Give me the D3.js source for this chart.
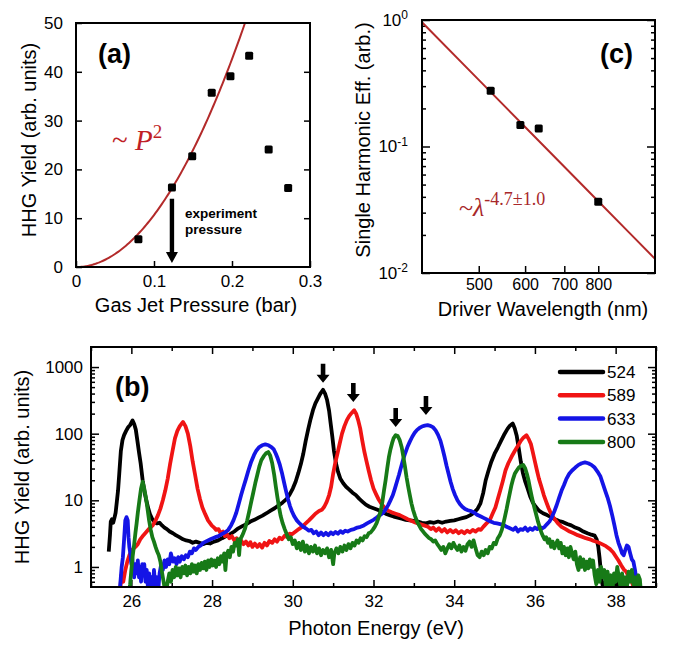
<!DOCTYPE html>
<html>
<head>
<meta charset="utf-8">
<script src="https://cdn.jsdelivr.net/npm/d3@7"></script>
<style>
body{margin:0;background:#fff}
svg text{font-family:"Liberation Sans",Arial,sans-serif;fill:#000}
.serif{font-family:"Liberation Serif","Times New Roman",serif}
</style>
</head>
<body>
<svg width="688" height="645"></svg>
<script>
// ---- panel (a): yield vs pressure
var pressure = [0.080, 0.123, 0.149, 0.174, 0.198, 0.222, 0.247, 0.272];
var hhgYield = [5.7, 16.3, 22.7, 35.7, 39.1, 43.3, 24.1, 16.2];
var p2Coef = 1065;          // fit  Y = c * P^2
var expPressure = 0.123;    // arrow

// ---- panel (c): efficiency vs wavelength
var wavelength = [524, 589, 633, 800];
var efficiency = [0.276, 0.148, 0.139, 0.0366];
var lamExp = -4.7, lamRef = 400, effRef = 0.96;

// ---- panel (b): spectra  [eV, yield]
var spec524 = [[25.44,1.7],[25.47,3.0],[25.49,4.8],[25.52,5.2],[25.55,4.6],[25.58,5.4],[25.61,6.5],[25.64,9.5],[25.67,14],[25.70,25],[25.74,55],[25.78,80],[25.82,95],[25.87,110],[25.92,125],[25.97,135],[26.03,158],[26.07,140],[26.11,115],[26.15,78],[26.19,52],[26.23,36],[26.28,20],[26.33,13],[26.37,10],[26.42,7.5],[26.46,6.2],[26.52,5.2],[26.57,4.8],[26.63,4.5],[26.70,4.6],[26.76,4.2],[26.82,3.9],[26.88,3.7],[26.95,3.4],[27.03,3.2],[27.10,3.0],[27.19,2.8],[27.28,2.6],[27.36,2.5],[27.44,2.45],[27.52,2.3],[27.60,2.4],[27.69,2.3],[27.78,2.2],[27.86,2.3],[27.95,2.25],[28.05,2.4],[28.15,2.5],[28.25,2.7],[28.35,2.9],[28.45,3.1],[28.55,3.4],[28.65,3.8],[28.75,4.1],[28.85,4.4],[28.95,4.8],[29.05,5.1],[29.15,5.5],[29.25,5.9],[29.35,6.4],[29.45,7.0],[29.55,7.6],[29.65,8.4],[29.75,9.3],[29.85,10.5],[29.93,12.5],[30.0,15],[30.07,19],[30.14,26],[30.2,35],[30.26,50],[30.32,78],[30.38,115],[30.44,165],[30.50,225],[30.56,285],[30.62,335],[30.68,395],[30.75,455],[30.80,400],[30.85,320],[30.90,220],[30.94,140],[30.98,90],[31.02,55],[31.07,36],[31.12,27],[31.18,21],[31.25,18],[31.32,16],[31.40,14.5],[31.48,13],[31.56,12],[31.65,10.5],[31.73,9.5],[31.81,8.6],[31.90,8.0],[32.0,7.6],[32.10,7.2],[32.2,6.8],[32.3,6.3],[32.4,6.0],[32.5,5.7],[32.6,5.5],[32.7,5.3],[32.8,5.1],[32.9,5.0],[33.0,4.9],[33.1,4.8],[33.2,4.6],[33.3,4.5],[33.4,4.7],[33.5,4.6],[33.6,4.8],[33.7,4.6],[33.8,4.8],[33.9,4.9],[34.0,5.0],[34.1,5.2],[34.2,5.4],[34.3,5.6],[34.4,6.0],[34.5,6.6],[34.58,7.5],[34.65,9],[34.72,13],[34.78,20],[34.85,28],[34.92,38],[35.0,50],[35.08,62],[35.16,78],[35.25,100],[35.32,118],[35.38,132],[35.45,142],[35.5,120],[35.55,92],[35.6,60],[35.65,38],[35.7,26],[35.76,19],[35.82,15],[35.88,11.5],[35.95,9.2],[36.02,8.0],[36.1,7.0],[36.2,6.4],[36.3,6.0],[36.4,5.6],[36.5,5.2],[36.6,4.9],[36.7,4.7],[36.8,4.4],[36.9,4.2],[37.0,3.9],[37.1,3.7],[37.2,3.4],[37.3,3.2],[37.4,3.05],[37.48,2.95],[37.53,2.6],[37.57,2.0],[37.6,1.4],[37.63,0.9],[37.66,0.6],[37.7,0.45],[37.75,0.58],[37.8,0.45],[37.85,0.62],[37.9,0.45],[37.95,0.55],[38.0,0.42],[38.05,0.58],[38.1,0.45],[38.15,0.52],[38.2,0.4]];

var spec589 = [[25.72,0.4],[25.75,0.75],[25.8,0.6],[25.85,0.9],[25.9,1.2],[25.95,1.5],[26.02,1.8],[26.1,2.0],[26.16,2.2],[26.22,2.6],[26.3,3.0],[26.37,3.35],[26.45,3.8],[26.53,4.2],[26.6,5.0],[26.66,6.0],[26.72,7.5],[26.78,10],[26.84,14],[26.9,21],[26.96,35],[27.02,55],[27.08,85],[27.14,110],[27.2,130],[27.28,150],[27.34,130],[27.40,100],[27.46,65],[27.52,38],[27.58,24],[27.64,15],[27.7,10.5],[27.76,7.8],[27.83,6.2],[27.9,5.0],[27.99,4.2],[28.05,3.9],[28.1,3.6],[28.16,3.7],[28.21,3.2],[28.27,3.4],[28.32,2.9],[28.37,3.1],[28.43,2.7],[28.49,2.9],[28.55,2.5],[28.61,2.7],[28.66,2.3],[28.72,2.5],[28.78,2.2],[28.84,2.4],[28.9,2.1],[28.95,2.35],[29.0,2.0],[29.06,2.25],[29.12,2.0],[29.18,2.2],[29.24,1.95],[29.3,2.3],[29.36,2.1],[29.42,2.45],[29.49,2.3],[29.55,2.6],[29.61,2.4],[29.67,2.75],[29.73,2.6],[29.8,2.95],[29.86,2.8],[29.92,3.15],[29.98,3.1],[30.07,3.4],[30.15,3.7],[30.23,4.0],[30.32,4.5],[30.4,5.0],[30.48,5.6],[30.56,6.3],[30.65,6.9],[30.72,7.2],[30.78,8.0],[30.84,9.5],[30.9,12],[30.95,16],[31.0,25],[31.05,36],[31.1,48],[31.16,70],[31.22,100],[31.28,130],[31.34,160],[31.4,185],[31.46,205],[31.52,225],[31.57,200],[31.62,160],[31.67,120],[31.72,80],[31.77,55],[31.82,40],[31.88,28],[31.94,20],[32.0,15],[32.06,12.5],[32.12,10.5],[32.2,8.8],[32.28,7.6],[32.36,7.0],[32.45,6.6],[32.55,6.3],[32.65,6.0],[32.75,5.6],[32.85,5.2],[32.95,4.9],[33.05,4.6],[33.15,4.4],[33.25,4.2],[33.35,4.0],[33.42,3.7],[33.48,3.9],[33.55,3.5],[33.62,3.8],[33.69,3.4],[33.76,3.7],[33.83,3.3],[33.9,3.6],[33.97,3.3],[34.04,3.55],[34.11,3.2],[34.18,3.45],[34.25,3.2],[34.32,3.5],[34.39,3.3],[34.46,3.6],[34.53,3.4],[34.6,3.7],[34.66,3.6],[34.72,4.0],[34.8,4.5],[34.88,5.0],[34.95,6.3],[35.02,7.8],[35.08,10.5],[35.14,14],[35.2,19],[35.27,28],[35.34,36],[35.42,45],[35.5,55],[35.58,66],[35.65,78],[35.72,88],[35.79,95],[35.85,82],[35.9,70],[35.95,52],[36.0,38],[36.05,28],[36.1,21],[36.16,16],[36.22,12],[36.28,9.5],[36.34,7.6],[36.4,6.3],[36.48,5.3],[36.56,4.6],[36.66,4.0],[36.76,3.7],[36.86,3.4],[36.96,3.2],[37.06,3.0],[37.16,2.85],[37.26,2.7],[37.36,2.6],[37.46,2.45],[37.56,2.35],[37.66,2.2],[37.76,2.05],[37.86,1.85],[37.94,1.65],[38.0,1.45],[38.07,1.25],[38.14,1.05],[38.2,0.92],[38.26,0.85],[38.32,0.72],[38.38,0.65],[38.42,0.55],[38.46,0.48],[38.5,0.4]];

var spec633 = [[25.68,0.4],[25.72,0.5],[25.76,1.0],[25.79,1.4],[25.82,2.6],[25.85,5.0],[25.88,5.6],[25.91,5.0],[25.93,2.8],[25.95,2.0],[25.98,1.5],[26.0,1.1],[26.02,1.4],[26.05,0.9],[26.07,0.7],[26.1,1.1],[26.13,0.8],[26.16,1.25],[26.19,0.7],[26.22,1.0],[26.24,0.6],[26.27,1.1],[26.3,0.75],[26.32,1.1],[26.35,0.6],[26.38,0.9],[26.41,0.5],[26.44,0.8],[26.47,0.45],[26.5,0.7],[26.53,0.4],[26.56,0.9],[26.6,0.45],[26.63,0.7],[26.66,0.4],[26.7,0.8],[26.74,1.1],[26.78,0.9],[26.82,1.25],[26.86,1.0],[26.9,1.3],[26.94,1.1],[26.98,1.6],[27.03,1.2],[27.07,1.35],[27.12,1.1],[27.16,1.4],[27.2,1.2],[27.25,1.45],[27.3,1.3],[27.35,1.5],[27.4,1.4],[27.45,1.7],[27.5,1.6],[27.55,1.9],[27.6,1.8],[27.66,2.0],[27.72,2.1],[27.78,2.3],[27.84,2.4],[27.9,2.5],[27.96,2.6],[28.02,2.7],[28.08,2.8],[28.16,2.9],[28.24,3.1],[28.32,3.3],[28.4,3.6],[28.47,4.2],[28.53,5.0],[28.6,6.5],[28.66,8.8],[28.72,12],[28.78,16],[28.84,21],[28.9,28],[28.97,38],[29.04,48],[29.1,56],[29.17,63],[29.24,67],[29.32,69],[29.4,67],[29.47,63],[29.53,58],[29.58,50],[29.63,42],[29.68,34],[29.73,26],[29.78,19],[29.83,14],[29.88,10.5],[29.93,8.2],[29.98,6.8],[30.04,5.7],[30.1,5.0],[30.17,4.5],[30.24,4.1],[30.32,3.8],[30.4,3.5],[30.46,3.6],[30.52,3.2],[30.58,3.4],[30.64,3.0],[30.7,3.3],[30.76,3.0],[30.82,3.25],[30.88,3.0],[30.94,3.3],[31.0,3.1],[31.06,3.35],[31.12,3.15],[31.18,3.45],[31.24,3.25],[31.3,3.5],[31.36,3.4],[31.44,3.6],[31.52,3.7],[31.6,3.9],[31.68,4.0],[31.76,4.2],[31.84,4.5],[31.92,4.8],[32.0,5.1],[32.08,5.5],[32.16,6.0],[32.24,6.5],[32.3,7.3],[32.36,8.4],[32.42,10],[32.48,12],[32.53,15],[32.58,19],[32.63,24],[32.68,31],[32.73,40],[32.78,50],[32.84,63],[32.9,76],[32.96,90],[33.02,103],[33.08,114],[33.14,122],[33.2,128],[33.27,132],[33.34,134],[33.41,131],[33.48,124],[33.54,112],[33.6,96],[33.66,78],[33.71,60],[33.76,45],[33.81,33],[33.86,25],[33.91,19],[33.96,15],[34.02,12],[34.08,10],[34.14,8.8],[34.2,8.0],[34.27,7.4],[34.34,7.1],[34.42,6.9],[34.5,6.5],[34.58,6.0],[34.66,5.7],[34.74,5.4],[34.82,5.1],[34.9,4.8],[34.98,4.6],[35.06,4.5],[35.14,4.4],[35.22,4.3],[35.3,4.0],[35.38,3.8],[35.46,3.6],[35.52,3.9],[35.58,3.4],[35.64,3.7],[35.7,3.6],[35.76,3.9],[35.82,3.5],[35.88,3.8],[35.94,3.6],[36.0,3.9],[36.06,3.7],[36.12,4.0],[36.18,3.8],[36.24,4.0],[36.3,4.4],[36.36,4.8],[36.42,5.6],[36.48,6.8],[36.54,8.5],[36.6,11],[36.66,14],[36.72,17],[36.78,21],[36.85,25],[36.92,28],[37.0,31],[37.08,34],[37.16,36],[37.24,37],[37.32,36],[37.4,34],[37.48,31],[37.55,27],[37.62,23],[37.68,18],[37.74,14],[37.8,11],[37.86,8.2],[37.92,5.8],[37.97,4.2],[38.02,3.0],[38.07,2.3],[38.12,1.9],[38.16,1.6],[38.2,1.5],[38.24,1.8],[38.28,2.1],[38.32,2.0],[38.36,1.6],[38.4,1.3],[38.44,1.2],[38.48,0.9],[38.52,0.6],[38.56,0.4]];

var spec800 = [[25.93,0.4],[25.97,0.55],[26.0,0.9],[26.03,1.4],[26.07,2.2],[26.1,3.2],[26.13,4.5],[26.16,6.5],[26.2,10],[26.24,15],[26.28,19],[26.32,15],[26.36,11],[26.4,7.5],[26.44,5.0],[26.48,3.6],[26.52,2.8],[26.56,2.4],[26.6,2.0],[26.64,1.7],[26.68,1.5],[26.72,1.2],[26.75,0.9],[26.78,0.7],[26.82,0.5],[26.86,0.4],[26.9,0.6],[26.94,0.8],[26.98,0.6],[27.02,0.9],[27.06,0.7],[27.1,1.0],[27.14,0.75],[27.18,0.95],[27.22,0.7],[27.26,1.0],[27.3,0.8],[27.34,1.05],[27.38,0.75],[27.42,1.0],[27.46,0.8],[27.5,1.1],[27.54,0.85],[27.58,1.05],[27.62,0.8],[27.66,1.1],[27.7,0.9],[27.74,1.15],[27.78,0.95],[27.82,1.2],[27.86,0.9],[27.9,1.25],[27.94,1.0],[27.98,1.3],[28.02,1.05],[28.06,1.25],[28.1,1.0],[28.14,1.35],[28.18,1.1],[28.22,1.45],[28.26,1.2],[28.3,1.6],[28.33,0.9],[28.36,1.5],[28.4,1.75],[28.44,1.4],[28.48,2.0],[28.52,1.7],[28.56,2.3],[28.6,2.1],[28.64,2.6],[28.67,1.5],[28.7,2.6],[28.74,2.9],[28.78,3.3],[28.82,3.8],[28.87,5.0],[28.92,6.8],[28.97,9.5],[29.02,13],[29.07,18],[29.12,24],[29.17,32],[29.22,40],[29.28,46],[29.34,51],[29.39,53],[29.44,47],[29.49,36],[29.54,24],[29.58,16],[29.62,11],[29.66,7.8],[29.7,5.8],[29.75,4.5],[29.8,3.7],[29.85,3.1],[29.9,2.6],[29.95,2.8],[30.0,2.2],[30.05,2.5],[30.1,1.9],[30.15,2.3],[30.2,1.8],[30.25,2.4],[30.3,1.7],[30.35,2.1],[30.4,1.6],[30.45,2.0],[30.5,1.7],[30.55,2.1],[30.6,1.6],[30.65,1.9],[30.7,1.5],[30.75,1.8],[30.8,1.6],[30.85,1.9],[30.9,1.4],[30.95,1.8],[31.0,1.1],[31.03,1.6],[31.08,1.9],[31.13,1.6],[31.18,2.0],[31.23,1.7],[31.28,2.1],[31.33,1.8],[31.38,2.2],[31.43,1.9],[31.48,2.3],[31.53,2.1],[31.58,2.5],[31.63,2.3],[31.68,2.7],[31.73,2.5],[31.78,2.9],[31.83,2.8],[31.88,3.2],[31.93,3.3],[31.98,3.6],[32.03,4.0],[32.08,4.6],[32.13,5.6],[32.18,7.0],[32.22,9.5],[32.26,14],[32.3,20],[32.34,30],[32.38,44],[32.42,58],[32.46,72],[32.5,86],[32.55,95],[32.6,92],[32.65,80],[32.7,62],[32.74,45],[32.78,32],[32.82,22],[32.86,16],[32.9,12],[32.94,9],[32.98,7.2],[33.03,5.8],[33.08,4.8],[33.13,4.2],[33.18,3.7],[33.23,3.4],[33.28,3.1],[33.33,2.9],[33.38,2.7],[33.43,2.6],[33.48,2.4],[33.53,2.5],[33.58,2.2],[33.63,2.0],[33.68,1.8],[33.73,2.0],[33.78,1.6],[33.83,1.9],[33.88,2.2],[33.93,1.9],[33.98,2.3],[34.03,2.0],[34.08,1.8],[34.13,2.1],[34.18,1.7],[34.23,2.0],[34.28,1.75],[34.33,2.2],[34.38,2.4],[34.43,2.0],[34.48,2.5],[34.53,1.9],[34.58,1.5],[34.63,1.4],[34.68,1.7],[34.73,1.5],[34.78,1.8],[34.83,1.6],[34.88,2.0],[34.93,1.9],[34.98,2.3],[35.03,2.2],[35.08,2.7],[35.13,3.0],[35.18,3.6],[35.22,4.5],[35.26,5.8],[35.3,7.5],[35.34,10],[35.38,13],[35.42,17],[35.46,21],[35.5,25],[35.55,28],[35.6,31],[35.66,33],[35.71,34],[35.76,30],[35.8,25],[35.84,20],[35.88,15],[35.92,11.5],[35.96,9],[36.0,7.2],[36.04,5.8],[36.08,4.7],[36.12,3.9],[36.16,3.3],[36.2,2.9],[36.24,2.6],[36.28,2.8],[36.32,2.3],[36.36,2.6],[36.4,2.0],[36.44,2.4],[36.48,1.9],[36.52,2.2],[36.56,2.5],[36.6,1.9],[36.64,2.3],[36.68,1.6],[36.72,2.0],[36.76,1.5],[36.8,1.9],[36.84,1.4],[36.88,2.0],[36.92,1.6],[36.96,1.3],[37.0,1.7],[37.04,1.1],[37.08,0.9],[37.12,1.4],[37.16,1.0],[37.2,1.3],[37.24,0.9],[37.28,1.2],[37.32,0.95],[37.36,1.3],[37.4,1.0],[37.44,1.25],[37.48,0.75],[37.52,0.55],[37.56,0.9],[37.6,0.6],[37.64,1.0],[37.68,0.7],[37.72,0.9],[37.76,0.5],[37.8,0.85],[37.84,0.55],[37.88,0.75],[37.92,0.45],[37.96,0.8],[38.0,0.6],[38.04,1.0],[38.08,0.7],[38.12,0.5],[38.16,0.8],[38.2,0.45],[38.24,0.7],[38.28,0.5],[38.32,0.85],[38.36,0.6],[38.4,0.9],[38.44,0.55],[38.48,0.7],[38.52,0.45],[38.56,0.75],[38.6,0.65],[38.63,0.4]];

var seriesNames = ["524", "589", "633", "800"];
var seriesColors = ["#000000", "#f01414", "#1414e6", "#177a17"];
var spectra = [spec524, spec589, spec633, spec800];
// harmonic picked for each wavelength: [eV, yield at arrow tip]
var arrowsB = [[30.75, 580], [31.5, 300], [32.55, 126], [33.3, 191]];

var fitColor = "#b32a2a";
var svg = d3.select("svg");

function styleAxis(g, size) {
	g.attr("font-family", null).attr("font-size", size);
	g.select(".domain").remove();
	g.selectAll(".tick line").attr("stroke", "#000").attr("stroke-width", 1.5);
}
function frame(x0, y0, x1, y1) {
	svg.append("rect").attr("x", x0).attr("y", y0)
		.attr("width", x1 - x0).attr("height", y1 - y0)
		.attr("fill", "none").attr("stroke", "#000").attr("stroke-width", 2);
}
function logMinors(lo, hi) {
	var out = [];
	for (var e = -3; e <= 4; e++)
		for (var k = 2; k <= 9; k++) {
			var v = k * Math.pow(10, e);
			if (v > lo && v < hi) out.push(v);
		}
	return out;
}

// ================= (a)
var xa = d3.scaleLinear().domain([0, 0.3]).range([76, 310]);
var ya = d3.scaleLinear().domain([0, 50]).range([267, 23]);

svg.append("g").attr("transform", "translate(0,267)")
	.call(d3.axisBottom(xa).tickValues([0, 0.1, 0.2, 0.3]).tickSize(-6).tickPadding(8)
		.tickFormat(function(d) { return d === 0 ? "0" : d3.format(".1f")(d); }))
	.call(styleAxis, 17);
svg.append("g").attr("transform", "translate(76,0)")
	.call(d3.axisLeft(ya).tickValues([0, 10, 20, 30, 40, 50]).tickSize(-6).tickPadding(13))
	.call(styleAxis, 17);
svg.append("g").attr("transform", "translate(310,0)")
	.call(d3.axisRight(ya).tickValues([10, 20, 30, 40]).tickSize(-6).tickFormat(""))
	.call(styleAxis, 17);

svg.append("defs").append("clipPath").attr("id", "clipA")
	.append("rect").attr("x", 76).attr("y", 23).attr("width", 234).attr("height", 244);

svg.append("path")
	.datum(d3.range(0, 0.2301, 0.002))
	.attr("clip-path", "url(#clipA)")
	.attr("fill", "none").attr("stroke", fitColor).attr("stroke-width", 2)
	.attr("d", d3.line().x(function(p) { return xa(p); }).y(function(p) { return ya(p2Coef * p * p); }));

svg.append("g").selectAll("rect")
	.data(pressure)
	.enter().append("rect")
	.attr("x", function(d) { return xa(d) - 4; })
	.attr("y", function(d, i) { return ya(hhgYield[i]) - 4; })
	.attr("width", 8).attr("height", 8).attr("rx", 1.5);

// experiment pressure arrow
var ax = xa(expPressure), aTop = ya(14), aTip = ya(0.8);
svg.append("path")
	.attr("d", "M" + (ax - 2.2) + "," + aTop + "V" + (aTip - 11) + "H" + (ax - 6) +
		"L" + ax + "," + aTip + "L" + (ax + 6) + "," + (aTip - 11) + "H" + (ax + 2.2) + "V" + aTop + "Z")
	.attr("fill", "#000");
svg.append("text").attr("x", 185).attr("y", 218).attr("font-size", 13.5).attr("font-weight", "bold").text("experiment");
svg.append("text").attr("x", 185).attr("y", 234).attr("font-size", 13.5).attr("font-weight", "bold").text("pressure");

var tP = svg.append("text").attr("class", "serif").attr("x", 112).attr("y", 150)
	.style("fill", "#c01e26").attr("font-size", 29);
tP.append("tspan").text("~ ");
tP.append("tspan").attr("font-style", "italic").text("P");
tP.append("tspan").attr("font-size", 19).attr("dy", -12).text("2");

svg.append("text").attr("x", 98).attr("y", 63).attr("font-size", 27).attr("font-weight", "bold").text("(a)");

frame(76, 23, 310, 267);

svg.append("text").attr("transform", "translate(36,140) rotate(-90)")
	.attr("text-anchor", "middle").attr("font-size", 20).text("HHG Yield (arb. units)");
svg.append("text").attr("x", 196).attr("y", 312)
	.attr("text-anchor", "middle").attr("font-size", 20).text("Gas Jet Pressure (bar)");

// ================= (c)
var xc = d3.scaleLog().domain([400, 1000]).range([422, 655]);
var yc = d3.scaleLog().domain([0.01, 1]).range([273, 20]);

svg.append("g").attr("transform", "translate(0,273)")
	.call(d3.axisBottom(xc).tickValues([500, 600, 700, 800]).tickSize(-7).tickPadding(6).tickFormat(d3.format("d")))
	.call(styleAxis, 16);

var powLabel = function(sel) {
	sel.selectAll(".tick text").each(function(d) {
		var t = d3.select(this).text("10");
		t.append("tspan").attr("dy", "-0.55em").attr("font-size", 12).text(Math.round(Math.log10(d)));
	});
};
svg.append("g").attr("transform", "translate(422,0)")
	.call(d3.axisLeft(yc).tickValues([1, 0.1, 0.01]).tickSize(-8).tickPadding(14))
	.call(styleAxis, 17).call(powLabel);
svg.append("g").attr("transform", "translate(422,0)")
	.call(d3.axisLeft(yc).tickValues(logMinors(0.01, 1)).tickSize(-4).tickFormat(""))
	.call(styleAxis, 17);
svg.append("g").attr("transform", "translate(655,0)")
	.call(d3.axisRight(yc).tickValues([1, 0.1, 0.01]).tickSize(-8).tickFormat(""))
	.call(styleAxis, 17);
svg.append("g").attr("transform", "translate(655,0)")
	.call(d3.axisRight(yc).tickValues(logMinors(0.01, 1)).tickSize(-4).tickFormat(""))
	.call(styleAxis, 17);

svg.append("path")
	.datum([400, 500, 600, 700, 800, 900, 1000])
	.attr("fill", "none").attr("stroke", fitColor).attr("stroke-width", 2)
	.attr("d", d3.line().x(function(l) { return xc(l); }).y(function(l) { return yc(effRef * Math.pow(l / lamRef, lamExp)); }));

svg.append("g").selectAll("rect")
	.data(wavelength)
	.enter().append("rect")
	.attr("x", function(d) { return xc(d) - 4; })
	.attr("y", function(d, i) { return yc(efficiency[i]) - 4; })
	.attr("width", 8).attr("height", 8).attr("rx", 1.5);

var tL = svg.append("text").attr("class", "serif").attr("x", 459).attr("y", 216)
	.style("fill", "#a8282a").attr("font-size", 26);
tL.append("tspan").text("~");
tL.append("tspan").attr("font-style", "italic").text("λ");
tL.append("tspan").attr("font-size", 18).attr("dy", -11).text("-4.7±1.0");

svg.append("text").attr("x", 600).attr("y", 63).attr("font-size", 27).attr("font-weight", "bold").text("(c)");

frame(422, 20, 655, 273);

svg.append("text").attr("transform", "translate(370,140) rotate(-90)")
	.attr("text-anchor", "middle").attr("font-size", 20).text("Single Harmonic Eff. (arb.)");
svg.append("text").attr("x", 543).attr("y", 316)
	.attr("text-anchor", "middle").attr("font-size", 20).text("Driver Wavelength (nm)");

// ================= (b)
var xb = d3.scaleLinear().domain([25, 39]).range([91, 656]);
var yb = d3.scaleLog().domain([0.5, 2000]).range([587, 347]);

svg.append("g").attr("transform", "translate(0,587)")
	.call(d3.axisBottom(xb).tickValues(d3.range(26, 39, 2)).tickSize(-7).tickPadding(8))
	.call(styleAxis, 17);
svg.append("g").attr("transform", "translate(0,587)")
	.call(d3.axisBottom(xb).tickValues(d3.range(25, 40, 2)).tickSize(-4).tickFormat(""))
	.call(styleAxis, 17);
svg.append("g").attr("transform", "translate(0,347)")
	.call(d3.axisTop(xb).tickValues(d3.range(26, 39, 2)).tickSize(-7).tickFormat(""))
	.call(styleAxis, 17);
svg.append("g").attr("transform", "translate(0,347)")
	.call(d3.axisTop(xb).tickValues(d3.range(25, 40, 2)).tickSize(-4).tickFormat(""))
	.call(styleAxis, 17);
svg.append("g").attr("transform", "translate(91,0)")
	.call(d3.axisLeft(yb).tickValues([1, 10, 100, 1000]).tickSize(-8).tickPadding(8).tickFormat(d3.format("d")))
	.call(styleAxis, 17);
svg.append("g").attr("transform", "translate(91,0)")
	.call(d3.axisLeft(yb).tickValues(logMinors(0.5, 2000)).tickSize(-4).tickFormat(""))
	.call(styleAxis, 17);
svg.append("g").attr("transform", "translate(656,0)")
	.call(d3.axisRight(yb).tickValues([1, 10, 100, 1000]).tickSize(-8).tickFormat(""))
	.call(styleAxis, 17);
svg.append("g").attr("transform", "translate(656,0)")
	.call(d3.axisRight(yb).tickValues(logMinors(0.5, 2000)).tickSize(-4).tickFormat(""))
	.call(styleAxis, 17);

svg.select("defs").append("clipPath").attr("id", "clipB")
	.append("rect").attr("x", 91).attr("y", 347).attr("width", 565).attr("height", 240);

var lineB = d3.line().x(function(d) { return xb(d[0]); }).y(function(d) { return yb(d[1]); });
svg.append("g").attr("clip-path", "url(#clipB)")
	.selectAll("path")
	.data(spectra)
	.enter().append("path")
	.attr("fill", "none")
	.attr("stroke", function(d, i) { return seriesColors[i]; })
	.attr("stroke-width", 3.8)
	.attr("stroke-linejoin", "round")
	.attr("d", lineB);

svg.append("g").selectAll("path")
	.data(arrowsB)
	.enter().append("path")
	.attr("fill", "#000")
	.attr("d", function(d) {
		var x = xb(d[0]), tip = yb(d[1]), top = tip - 19;
		return "M" + (x - 2.3) + "," + top + "V" + (tip - 8) + "H" + (x - 6.5) +
			"L" + x + "," + tip + "L" + (x + 6.5) + "," + (tip - 8) + "H" + (x + 2.3) + "V" + top + "Z";
	});

var leg = svg.append("g").selectAll("g")
	.data(seriesNames)
	.enter().append("g")
	.attr("transform", function(d, i) { return "translate(560," + (372 + i * 23.3) + ")"; });
leg.append("line").attr("x1", 0).attr("x2", 43)
	.attr("stroke", function(d, i) { return seriesColors[i]; })
	.attr("stroke-width", 4.5).attr("stroke-linecap", "round");
leg.append("text").attr("x", 47).attr("dy", "0.36em").attr("font-size", 17)
	.text(function(d) { return d; });

svg.append("text").attr("x", 115).attr("y", 396).attr("font-size", 27).attr("font-weight", "bold").text("(b)");

frame(91, 347, 656, 587);

svg.append("text").attr("transform", "translate(29,467) rotate(-90)")
	.attr("text-anchor", "middle").attr("font-size", 20).text("HHG Yield (arb. units)");
svg.append("text").attr("x", 376).attr("y", 635)
	.attr("text-anchor", "middle").attr("font-size", 20).text("Photon Energy (eV)");
</script>
</body>
</html>
